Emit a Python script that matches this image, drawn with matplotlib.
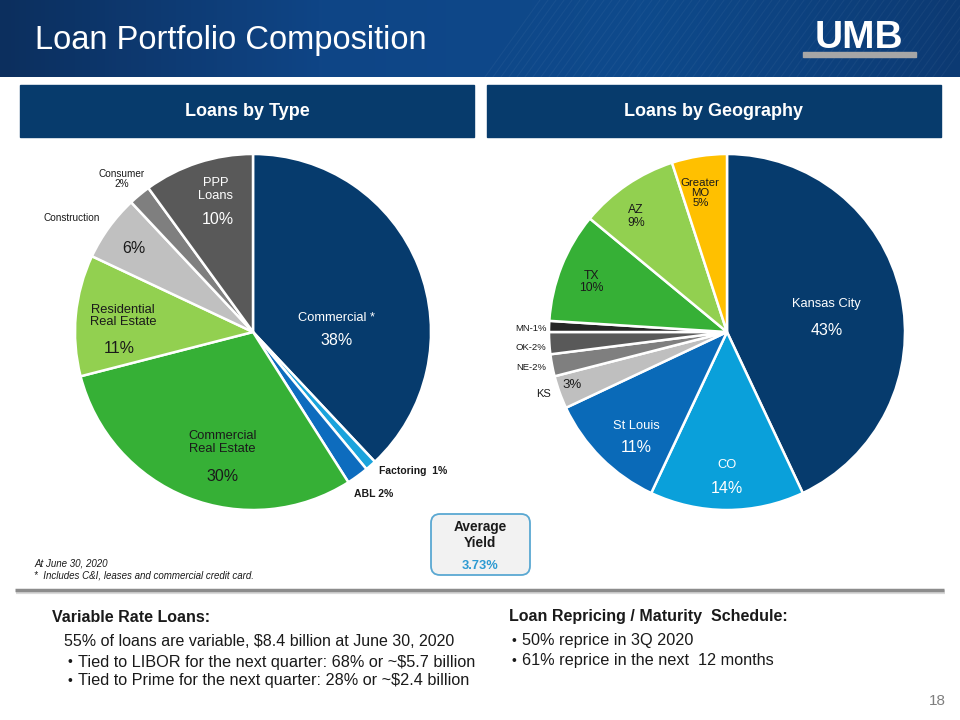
import numpy as np
import matplotlib
matplotlib.use("Agg")
import matplotlib.pyplot as plt
from matplotlib import font_manager
from matplotlib.patches import Rectangle, FancyBboxPatch
from matplotlib.colors import LinearSegmentedColormap

# Datos: préstamos por tipo
tipo_nombres = ["Commercial *", "Factoring", "ABL", "Commercial\nReal Estate",
                "Residential\nReal Estate", "Construction", "Consumer", "PPP\nLoans"]
tipo_valores = [38, 1, 2, 30, 11, 6, 2, 10]
tipo_colores = ["#063B6D", "#1AA3DC", "#0D6CBE", "#36B036", "#92D050",
                "#C0C0C0", "#7F7F7F", "#595959"]

# Datos: préstamos por geografía
geo_nombres = ["Kansas City", "CO", "St Louis", "KS", "NE", "OK", "MN", "TX", "AZ", "Greater\nMO"]
geo_valores = [43, 14, 11, 3, 2, 2, 1, 10, 9, 5]
geo_colores = ["#063B6D", "#0AA0DA", "#0A6AB8", "#BFBFBF", "#7F7F7F",
               "#595959", "#262626", "#36B036", "#92D050", "#FFC000"]

rendimiento = "3.73%"

# Fuentes
disponibles = {f.name for f in font_manager.fontManager.ttflist}
NARROW = "Liberation Sans Narrow" if "Liberation Sans Narrow" in disponibles else "Liberation Sans"
ARIAL = "Liberation Sans"

fig = plt.figure(figsize=(9.6, 7.2), dpi=100)
fig.patch.set_facecolor("white")

bg = fig.add_axes([0, 0, 1, 1])
bg.set_xlim(0, 960)
bg.set_ylim(720, 0)
bg.axis("off")

# Encabezado con degradado
cmap = LinearSegmentedColormap.from_list("hdr", ["#0C2F5E", "#0F4586", "#0E4A8C", "#0C3A73"])
grad = np.linspace(0, 1, 256).reshape(1, -1)
bg.imshow(grad, cmap=cmap, extent=[0, 960, 77, 0], aspect="auto", zorder=0)
# lineas diagonales decorativas
for x0 in np.arange(540, 1000, 8):
    bg.plot([x0, x0 - 55], [0, 77], color="white", alpha=0.045, lw=0.8, zorder=1)
bg.set_xlim(0, 960)
bg.set_ylim(720, 0)

bg.text(35, 41, "Loan Portfolio Composition", color="white", fontsize=23.5,
        family=NARROW, va="center", ha="left", zorder=3)
bg.text(859, 38, "UMB", color="white", fontsize=28, fontweight="heavy",
        family=ARIAL, va="center", ha="center", zorder=3)
bg.add_patch(Rectangle((803, 52), 113, 5, color="#A6A6A6", zorder=3))

# Cajas de titulo
for x0, titulo in [(20, "Loans by Type"), (487, "Loans by Geography")]:
    bg.add_patch(Rectangle((x0, 85), 454, 52, color="#073B6C", zorder=2))
    bg.text(x0 + 227, 112, titulo, color="white", fontsize=13, fontweight="bold",
            family=NARROW, ha="center", va="center", zorder=3)


def pastel(cx, cy, r, valores, colores):
    ax = fig.add_axes([(cx - r) / 960, 1 - (cy + r) / 720, 2 * r / 960, 2 * r / 720])
    ax.pie(valores, colors=colores, startangle=90, counterclock=False,
           wedgeprops=dict(edgecolor="white", linewidth=1.8))
    ax.set_xlim(-1, 1)
    ax.set_ylim(-1, 1)
    ax.set_aspect("equal")
    ax.axis("off")
    return ax


# Pastel izquierdo
ax1 = pastel(253, 332, 178, tipo_valores, tipo_colores)
txt = dict(family=ARIAL, ha="center", va="center")
ax1.text(0.47, 0.08, tipo_nombres[0], color="white", fontsize=9.3, **txt)
ax1.text(0.47, -0.05, f"{tipo_valores[0]}%", color="white", fontsize=11.5, **txt)
ax1.text(0.71, -0.78, f"Factoring  {tipo_valores[1]}%", color="#1A1A1A", fontsize=7.5,
         fontweight="bold", family=ARIAL, ha="left", va="center")
ax1.text(0.57, -0.91, f"ABL {tipo_valores[2]}%", color="#1A1A1A", fontsize=7.5,
         fontweight="bold", family=ARIAL, ha="left", va="center")
ax1.text(-0.17, -0.62, tipo_nombres[3], color="#1A1A1A", fontsize=9.3, linespacing=1.1, **txt)
ax1.text(-0.17, -0.81, f"{tipo_valores[3]}%", color="#1A1A1A", fontsize=11.5, **txt)
ax1.text(-0.73, 0.09, tipo_nombres[4], color="#1A1A1A", fontsize=9.3, linespacing=1.1, **txt)
ax1.text(-0.75, -0.09, f"{tipo_valores[4]}%", color="#1A1A1A", fontsize=11.5, **txt)
ax1.text(-1.02, 0.64, tipo_nombres[5], color="#1A1A1A", fontsize=7.2, **txt)
ax1.text(-0.67, 0.47, f"{tipo_valores[5]}%", color="#1A1A1A", fontsize=11.5, **txt)
ax1.text(-0.74, 0.86, f"{tipo_nombres[6]}\n{tipo_valores[6]}%", color="#1A1A1A",
         fontsize=7.2, linespacing=1.0, **txt)
ax1.text(-0.21, 0.80, tipo_nombres[7], color="white", fontsize=9.3, linespacing=1.1, **txt)
ax1.text(-0.20, 0.63, f"{tipo_valores[7]}%", color="white", fontsize=11.5, **txt)

# Pastel derecho
ax2 = pastel(727, 332, 178, geo_valores, geo_colores)
ax2.text(0.56, 0.16, geo_nombres[0], color="white", fontsize=9.3, **txt)
ax2.text(0.56, 0.01, f"{geo_valores[0]}%", color="white", fontsize=11.5, **txt)
ax2.text(0.0, -0.75, geo_nombres[1], color="white", fontsize=9.3, **txt)
ax2.text(0.0, -0.88, f"{geo_valores[1]}%", color="white", fontsize=11.5, **txt)
ax2.text(-0.51, -0.53, geo_nombres[2], color="white", fontsize=9.3, **txt)
ax2.text(-0.51, -0.65, f"{geo_valores[2]}%", color="white", fontsize=11.5, **txt)
ax2.text(-1.03, -0.35, geo_nombres[3], color="#1A1A1A", fontsize=8, **txt)
ax2.text(-0.87, -0.30, f"{geo_valores[3]}%", color="#1A1A1A", fontsize=9.5, **txt)
for nombre, v, y in [(geo_nombres[4], geo_valores[4], -0.20),
                     (geo_nombres[5], geo_valores[5], -0.085),
                     (geo_nombres[6], geo_valores[6], 0.02)]:
    ax2.text(-1.015, y, f"{nombre}-{v}%", color="#1A1A1A", fontsize=6.8,
             family=ARIAL, ha="right", va="center")
ax2.text(-0.76, 0.28, f"{geo_nombres[7]}\n{geo_valores[7]}%", color="#1A1A1A",
         fontsize=8.8, linespacing=1.05, **txt)
ax2.text(-0.51, 0.65, f"{geo_nombres[8]}\n{geo_valores[8]}%", color="#1A1A1A",
         fontsize=8.8, linespacing=1.05, **txt)
ax2.text(-0.15, 0.78, f"{geo_nombres[9]}\n{geo_valores[9]}%", color="#1A1A1A",
         fontsize=8.2, linespacing=1.0, **txt)

# Caja de rendimiento promedio
bg.add_patch(FancyBboxPatch((431, 514), 99, 61, boxstyle="round,pad=0,rounding_size=9",
                            facecolor="#F2F2F2", edgecolor="#5AA8D2", lw=1.3, zorder=2))
bg.text(480, 535, "Average\nYield", color="#1A1A1A", fontsize=9.8, fontweight="bold",
        family=NARROW, ha="center", va="center", linespacing=1.15, zorder=3)
bg.text(480, 566, rendimiento, color="#2C9AD2", fontsize=9.3, fontweight="bold",
        family=NARROW, ha="center", va="center", zorder=3)

# Notas
bg.text(34, 563, "At June 30, 2020", fontsize=7, style="italic", family=NARROW,
        color="#1A1A1A", va="center")
bg.text(34, 576, "*  Includes C&I, leases and commercial credit card.", fontsize=7,
        style="italic", family=NARROW, color="#1A1A1A", va="center")

# Linea separadora
bg.plot([16, 945], [592, 592], color="#D9D9D9", lw=3, solid_capstyle="butt", zorder=1)
bg.plot([15, 944], [590, 590], color="#8C8C8C", lw=2.5, solid_capstyle="butt", zorder=2)

# Texto inferior
bg.text(52, 617, "Variable Rate Loans:", fontsize=11.5, fontweight="bold", family=NARROW,
        color="#1A1A1A", va="center")
bg.text(64, 641, "55% of loans are variable, $8.4 billion at June 30, 2020", fontsize=11.5,
        family=NARROW, color="#1A1A1A", va="center")
for y, linea in [(662, "Tied to LIBOR for the next quarter: 68% or ~$5.7 billion"),
                 (681, "Tied to Prime for the next quarter: 28% or ~$2.4 billion")]:
    bg.text(67, y, "•", fontsize=10, family=ARIAL, color="#1A1A1A", va="center")
    bg.text(78, y, linea, fontsize=11.7, family=NARROW, color="#1A1A1A", va="center")

bg.text(509, 617, "Loan Repricing / Maturity  Schedule:", fontsize=11.5, fontweight="bold",
        family=NARROW, color="#1A1A1A", va="center")
for y, linea in [(641, "50% reprice in 3Q 2020"),
                 (661, "61% reprice in the next  12 months")]:
    bg.text(512, y, "•", fontsize=10, family=ARIAL, color="#1A1A1A", va="center")
    bg.text(522, y, linea, fontsize=11.7, family=NARROW, color="#1A1A1A", va="center")

bg.text(946, 701, "18", fontsize=11, family=NARROW, color="#7F7F7F", ha="right", va="center")

fig.savefig("out.png", dpi=100, facecolor="white")
